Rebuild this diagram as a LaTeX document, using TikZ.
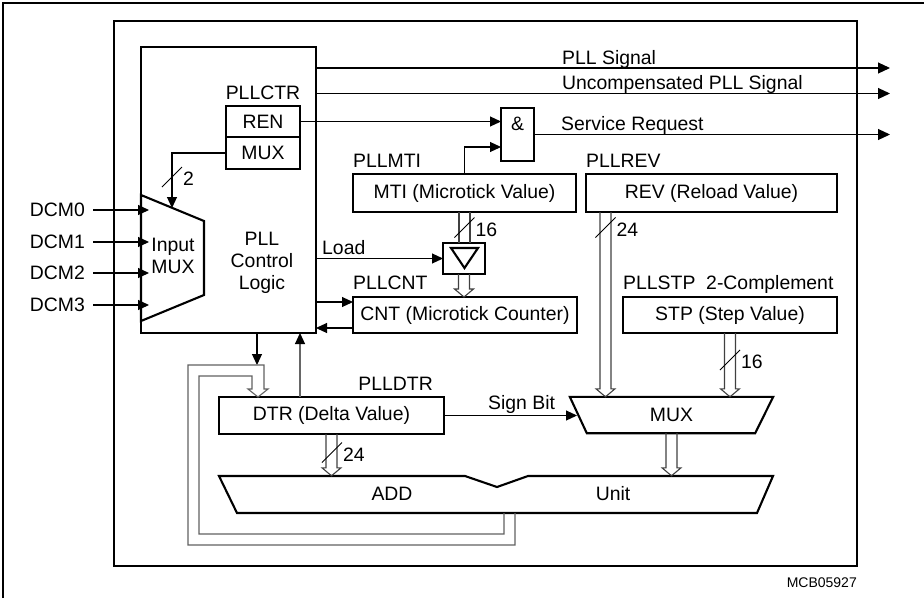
\documentclass[tikz,border=0pt]{standalone}
\usepackage{fontspec}
\setmainfont{Liberation Sans}
\usetikzlibrary{positioning,arrows.meta,calc}

% bus with open head, from #1 down to the height of #2
\newcommand{\bus}[2]{%
  \draw[busline] let \p1=(#1), \p2=(#2) in
    (\x1-5.5pt,\y1) -- (\x1-5.5pt,\y2+8pt) -- (\x1-9.5pt,\y2+8pt) -- (\x1,\y2)
    -- (\x1+9.5pt,\y2+8pt) -- (\x1+5.5pt,\y2+8pt) -- (\x1+5.5pt,\y1);}
% bus without head
\newcommand{\busplain}[2]{%
  \draw[busline] let \p1=(#1), \p2=(#2) in
    (\x1-5.5pt,\y1) -- (\x1-5.5pt,\y2) (\x1+5.5pt,\y1) -- (\x1+5.5pt,\y2);}
% width mark on a bus
\newcommand{\buswidth}[2]{%
  \draw[slashmark] ($(#1)+(-10,10)$) -- ($(#1)+(10,-10)$);
  \node[lbl, anchor=west] at ($(#1)+(11,2)$) {#2};}

\begin{document}
\begin{tikzpicture}[x=1pt, y=-1pt,
  font=\fontsize{19.4}{22}\selectfont,
  box/.style={rectangle, draw, line width=2.1pt, outer sep=0pt, inner sep=0pt},
  shapeline/.style={line width=2.1pt, line join=miter},
  txt/.style={inner sep=0pt, align=center},
  lbl/.style={inner sep=0pt},
  arr/.style={line width=1.1pt, -{Triangle[length=11pt,width=10pt]}},
  arrout/.style={line width=1.1pt, -{Triangle[length=12pt,width=11pt]}},
  arrgray/.style={line width=1.1pt, draw=black!60, -{Triangle[length=11pt,width=10pt,color=black]}},
  busline/.style={line width=1.1pt, draw=black!75},
  loopline/.style={line width=1.1pt, draw=black!62},
  slashmark/.style={line width=1pt}
]
\useasboundingbox (0,0) rectangle (924,598);

% frames
\draw[line width=1.8pt] (3,598) -- (3,3) -- (924,3);
\draw[line width=2.1pt] (114,21) rectangle (857,566);

% PLL control logic with input MUX
\node[box, minimum width=175pt, minimum height=286pt] (ctrl) at (228.5,190) {};
\node[txt] (ctrltxt) at (262,263) {PLL\\Control\\Logic};
\draw[shapeline] (141,195) -- (204,221) -- (204,295) -- (141,321) -- cycle;
\node[txt] (imux) at (173,256) {Input\\MUX};
\coordinate (imuxsel) at (172,208);

% registers
\node[box, minimum width=74pt, minimum height=31pt] (ren) at (263,121.5) {REN};
\node[box, minimum width=74pt, minimum height=32pt, below=0pt of ren] (muxr) {MUX};
\node[lbl, anchor=base] (ctrlbl) at ([yshift=7pt]ren.north) {PLLCTR};

\node[box, minimum width=33pt, minimum height=53pt] (andg) at (517.5,134.5) {};
\node[txt] (andsym) at ([yshift=11pt]andg.center) {\&};

\node[box, minimum width=223pt, minimum height=38pt] (mti) at (464.5,193) {MTI (Microtick Value)};
\node[lbl, anchor=base west] (mtilbl) at ([yshift=7pt]mti.north west) {PLLMTI};
\node[box, minimum width=251pt, minimum height=38pt] (rev) at (711.5,193) {REV (Reload Value)};
\node[lbl, anchor=base west] (revlbl) at ([yshift=7pt]rev.north west) {PLLREV};

\node[box, minimum width=42pt, minimum height=31pt] (buf) at (464,258.5) {};
\draw[shapeline] ([shift={(-13,-10.5)}]buf.center) -- ([shift={(14,-10.5)}]buf.center)
  -- ([shift={(0.5,9.5)}]buf.center) -- cycle;

\node[box, minimum width=224pt, minimum height=36pt] (cnt) at (465,315) {CNT (Microtick Counter)};
\node[lbl, anchor=base west] (cntlbl) at ([yshift=8pt]cnt.north west) {PLLCNT};
\node[box, minimum width=214pt, minimum height=36pt] (stp) at (730,315) {STP (Step Value)};
\node[lbl, anchor=base west] (stplbl) at ([yshift=8pt]stp.north west) {PLLSTP\ \ 2-Complement};

\node[box, minimum width=225pt, minimum height=37pt] (dtr) at (331.5,415.5) {DTR (Delta Value)};
\node[lbl, anchor=base east] (dtrlbl) at ([shift={(-11,-7)}]dtr.north east) {PLLDTR};

% MUX and adder
\node[minimum width=203pt, minimum height=36pt, inner sep=0pt] (mux) at (671.5,415) {MUX};
\draw[shapeline] (mux.north west) -- (mux.north east) -- ([xshift=-18pt]mux.south east)
  -- ([xshift=17pt]mux.south west) -- cycle;
\node[minimum width=554pt, minimum height=37pt, inner sep=0pt] (alu) at (496,494.5) {};
\draw[shapeline] (219,476) -- (465,476) -- (497,487) -- (528,476) -- (773,476)
  -- (757,513) -- (237,513) -- cycle;
\node[txt] (addlbl) at (392,494) {ADD};
\node[txt] (unitlbl) at (613,494) {Unit};

% inputs
\foreach \i/\y in {0/210,1/242,2/273,3/305}{
  \node[lbl, anchor=east] (dcm\i) at (85,\y) {DCM\i};
  \draw[arr] ([xshift=8pt]dcm\i.east) -- ([xshift=8pt]dcm\i.east -| ctrl.west);
}
\draw[arr] (muxr.west) -| (imuxsel);
\buswidth{172,177}{2}

% outputs
\coordinate (pllsig) at (890,68);
\coordinate (uncsig) at (890,93.5);
\coordinate (srq) at (890,134.5);
\draw[arrout] (pllsig -| ctrl.east) -- (pllsig);
\draw[arrout] (uncsig -| ctrl.east) -- (uncsig);
\draw[arrout] (andg.east) -- (srq);
\node[lbl, anchor=base west] at (562,64) {PLL Signal};
\node[lbl, anchor=base west] at (562,89) {Uncompensated PLL Signal};
\node[lbl, anchor=base west] at (561,130) {Service Request};

% gate inputs
\coordinate (andin) at ([yshift=-12.5pt]andg.west);
\draw[arr] (ren.east) -- (ren.east -| andg.west);
\draw[arr] (mti.north) |- (andin);

% load and counter
\draw[arr] (buf.west -| ctrl.east) -- (buf.west);
\node[lbl, anchor=base west] at (322,254) {Load};
\coordinate (cntup) at ([yshift=13pt]cnt.west);
\coordinate (cntdn) at ([yshift=-13pt]cnt.west);
\draw[arr] (cntup -| ctrl.east) -- (cntup);
\draw[arr] (cntdn) -- (cntdn -| ctrl.east);

% buses
\busplain{mti.south}{buf.north}
\buswidth{464.5,227.5}{16}
\bus{buf.south}{cnt.north}
\coordinate (revtap) at (605.5,212);
\bus{revtap}{mux.north}
\buswidth{605.5,227.5}{24}
\bus{stp.south}{mux.north}
\buswidth{730,360}{16}
\bus{dtr.south}{alu.north}
\buswidth{332,452.5}{24}
\bus{mux.south}{alu.north}

% sign bit
\coordinate (signin) at (577,415.5);
\draw[arr] (dtr.east) -- (signin);
\node[lbl, anchor=base west] at (488,409) {Sign Bit};

% control <-> delta
\coordinate (loopin) at (257,365);
\coordinate (dtrup) at (300,397);
\draw[arr] (loopin |- ctrl.south) -- (loopin);
\draw[arrgray] (dtrup) -- (dtrup |- ctrl.south);

% feedback from adder
\draw[loopline] (504,513) -- (504,534) -- (199,534) -- (199,376) -- (252,376) -- (252,389)
  -- (248,389) -- (258,397) -- (268,389) -- (264,389) -- (264,365) -- (188,365)
  -- (188,545) -- (515,545) -- (515,513);

\node[lbl, font=\fontsize{14}{16}\selectfont, anchor=east] (docid) at (857,583) {MCB05927};
\end{tikzpicture}
\end{document}
